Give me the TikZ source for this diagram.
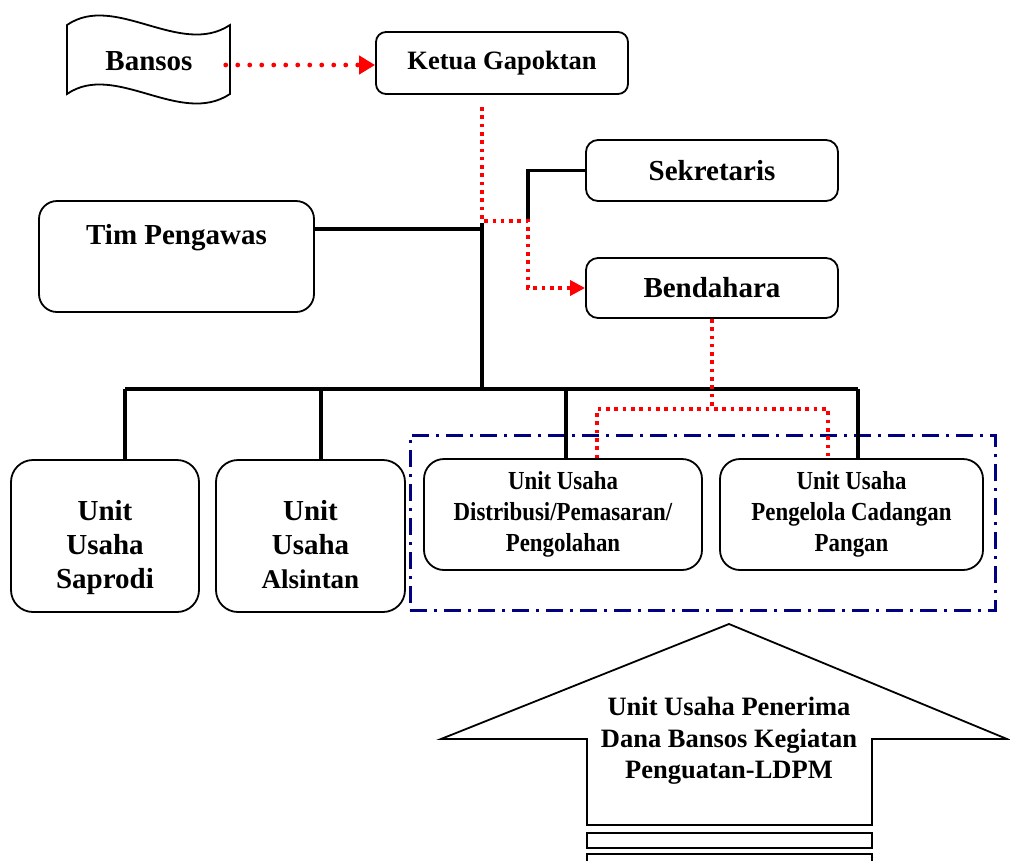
\documentclass[tikz,border=0pt]{standalone}
\usepackage{fontspec}
\setmainfont{Liberation Serif}
\newfontfamily\narrowserif[FakeStretch=0.88]{Liberation Serif}
\usetikzlibrary{arrows.meta,calc}

\definecolor{grpblue}{RGB}{0,0,128}
\definecolor{linkred}{RGB}{255,0,0}

\tikzset{
  rbox/.style={draw=black, line width=1.8pt, rounded corners=#1, inner sep=0pt},
  rbox/.default=12pt,
  bigtxt/.style={font=\bfseries\fontsize{29}{34}\selectfont, align=center, inner sep=0pt},
  midtxt/.style={font=\bfseries\fontsize{26.5}{31.5}\selectfont, align=center, inner sep=0pt},
  smalltxt/.style={font=\narrowserif\bfseries\fontsize{26}{31}\selectfont, align=center, inner sep=0pt},
  conn/.style={draw=black, line width=3.8pt},
  reddots/.style={draw=linkred, line width=3.5pt, dash pattern=on 3.6pt off 4.7pt},
  bigdots/.style={draw=linkred, line width=4.8pt, line cap=round, dash pattern=on 0pt off 12pt},
  grpline/.style={draw=grpblue, line width=3pt, dash pattern=on 17pt off 7pt on 3pt off 7pt},
}

\begin{document}
\begin{tikzpicture}[x=1pt, y=-1pt]
\useasboundingbox (0,0) rectangle (1010,860);

% wavy document shape for Bansos
\draw[line width=1.8pt, fill=white]
  (67,25) .. controls (115,-8) and (180,58) .. (230,25)
  -- (230,94) .. controls (180,127) and (115,61) .. (67,94) -- cycle;
\node[bigtxt] (bansos) at (149,61) {Bansos};

% boxes
\node[rbox=10pt, minimum width=252pt, minimum height=62pt, midtxt] (ketua) at (502,63) {Ketua Gapoktan};
\node[rbox, minimum width=252pt, minimum height=61pt, bigtxt] (sek) at (712,170.5) {Sekretaris};
\node[rbox, minimum width=252pt, minimum height=60pt, bigtxt] (bend) at (712,288) {Bendahara};
\node[rbox=18pt, minimum width=275pt, minimum height=111pt] (tim) at (176.5,256.5) {};
\node[bigtxt] (timtxt) at ($(tim.north)+(0,38)$) {Tim Pengawas};

\node[rbox=22pt, minimum width=188pt, minimum height=152pt] (sap) at (105,536) {};
\node[bigtxt] (saptxt) at ($(sap.center)+(0,12)$) {Unit\\Usaha\\Saprodi};
\node[rbox=22pt, minimum width=189pt, minimum height=152pt] (als) at (310.5,536) {};
\node[bigtxt] (alstxt) at ($(als.center)+(0,9)$) {Unit\\Usaha\\{\fontsize{27}{32}\selectfont Alsintan}};
\node[rbox=20pt, minimum width=278pt, minimum height=111pt, smalltxt] (dist) at (563,514.5) {Unit Usaha\\Distribusi/Pemasaran/\\Pengolahan};
\node[rbox=20pt, minimum width=263pt, minimum height=111pt, smalltxt] (pan) at (851.5,514.5) {Unit Usaha\\Pengelola Cadangan\\Pangan};

% group frame around the two units receiving the fund
\node[grpline, minimum width=585pt, minimum height=175pt, inner sep=0pt] (grp) at (702.5,522.5) {};

% black organisation lines
\coordinate (j1) at (482,229);
\coordinate (bus) at (482,389);
\coordinate (d1) at ($(sap.north)+(20,0)$);
\coordinate (d2) at ($(als.north)+(10.5,0)$);
\coordinate (d3) at ($(dist.north)+(3,0)$);
\coordinate (d4) at ($(pan.north)+(6.5,0)$);
\draw[conn] (tim.east |- j1) -- (j1);
\draw[conn] (482,223) -- (bus);
\draw[conn] (d1 |- bus) -- (d4 |- bus);
\draw[conn] (d1 |- bus) -- (d1);
\draw[conn] (d2 |- bus) -- (d2);
\draw[conn] (d3 |- bus) -- (d3);
\draw[conn] (d4 |- bus) -- (d4);
\coordinate (sj) at (528,221);
\draw[conn] (sj) |- (sek.west);

% red fund flow
\coordinate (bs) at ($(bansos.east)+(33,4)$);
\draw[bigdots, -{Triangle[length=16pt, width=18pt]}] (bs) -- (bs -| ketua.west);
\coordinate (k1) at (482,107);
\draw[reddots, -{Triangle[length=15pt, width=15pt]}] (k1) |- (sj) |- (bend.west);
\coordinate (rb) at (712,410);
\draw[reddots] (bend.south) -- (rb);
\draw[reddots] ($(dist.north)+(34,0)$) -- ++(0,-49) -| ($(pan.north)+(-23.5,0)$);

% upward block arrow
\draw[line width=1.8pt]
  (441,739) -- (729,624) -- (1007,739) -- (872,739) -- (872,825)
  -- (587,825) -- (587,739) -- cycle;
\draw[line width=1.8pt] (587,833) rectangle (872,848);
\draw[line width=1.8pt] (587,854) rectangle (872,868);
\node[midtxt] (arrtxt) at (729,741) {Unit Usaha Penerima\\Dana Bansos Kegiatan\\Penguatan-LDPM};
\end{tikzpicture}
\end{document}
